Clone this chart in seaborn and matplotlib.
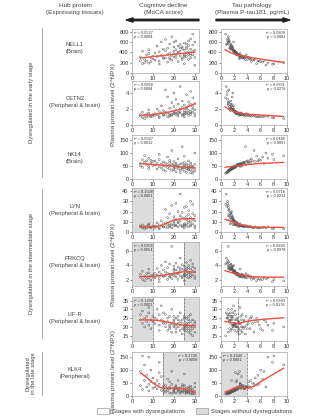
import numpy as np
import pandas as pd
import matplotlib
matplotlib.use("Agg")
import matplotlib.pyplot as plt
from matplotlib.patches import Rectangle, FancyArrow
import seaborn as sns

# ---- subjects: MoCA score and plasma P-tau181 (pg/mL) ----
moca = [4, 4, 5, 5, 6, 6, 7, 7, 8, 8, 8, 9, 9, 10, 10,
        11, 11, 12, 12, 13, 13, 13, 14, 14, 15, 15, 15,
        16, 16, 16, 17, 17, 17, 18, 18, 18, 18, 19, 19, 19, 20, 20, 20, 20, 20,
        21, 21, 21, 21, 22, 22, 22, 22, 23, 23, 23, 23, 24, 24, 24, 24, 25, 25, 25, 25, 25, 25,
        26, 26, 26, 26, 26, 27, 27, 27, 27, 27, 28, 28, 28, 28, 28, 29, 29, 29, 29, 30, 30, 30, 30]
ptau = [6.5, 3.2, 8.0, 2.1, 4.5, 9.5, 3.8, 5.6, 2.9, 7.1, 1.8, 4.2, 6.0, 3.0, 5.2,
        2.4, 4.8, 1.6, 3.5, 7.8, 2.2, 5.8, 1.9, 3.1, 2.7, 4.1, 1.4,
        2.0, 3.3, 1.2, 6.3, 2.6, 1.7, 4.4, 2.3, 1.5, 3.6, 2.8, 1.1, 5.0, 2.1, 3.9, 1.8, 2.5, 1.3,
        1.9, 2.7, 1.0, 3.2, 2.2, 1.6, 4.6, 2.4, 1.3, 3.0, 2.0, 0.8, 1.7, 2.9, 3.7, 1.5, 2.3, 1.1, 2.6, 5.4, 1.8, 3.4,
        1.4, 2.1, 0.9, 3.1, 1.7, 2.5, 1.2, 4.0, 2.0, 1.6, 2.8, 1.0, 2.2, 3.5, 1.5, 1.9, 0.7, 2.4, 1.3, 2.9, 1.8, 6.8, 1.1]

# ---- plasma protein levels (2^NPX) per subject ----
nell1 = [240, 310, 180, 420, 260, 200, 350, 230, 380, 190, 450, 300, 220, 330, 270,
         390, 250, 520, 320, 170, 410, 230, 600, 340, 280, 300, 460,
         430, 290, 650, 210, 360, 480, 270, 380, 560, 300, 340, 700, 250, 420, 310, 500, 370, 600,
         450, 350, 620, 300, 400, 520, 220, 380, 480, 330, 420, 550, 470, 290, 260, 500, 360, 580, 340, 180, 440, 310,
         500, 390, 560, 320, 470, 360, 620, 260, 410, 530, 340, 660, 380, 290, 460, 420, 750, 350, 540, 300, 440, 150, 600]
cetn2 = [1.1, 1.3, 0.9, 1.6, 1.2, 0.8, 1.4, 1.0, 1.5, 1.1, 1.9, 1.2, 1.0, 1.3, 1.1,
         1.4, 1.2, 2.0, 1.3, 0.9, 1.7, 1.1, 2.4, 1.5, 1.2, 1.3, 1.8,
         1.6, 1.3, 4.4, 1.0, 1.5, 3.5, 1.2, 1.4, 2.1, 1.1, 1.3, 2.8, 1.2, 1.7, 1.4, 4.0, 1.5, 2.3,
         1.9, 1.5, 3.2, 1.3, 1.6, 2.6, 1.1, 1.4, 2.0, 1.5, 1.7, 4.8, 2.2, 1.3, 1.2, 3.0, 1.6, 2.5, 1.4, 1.0, 1.8, 1.3,
         2.0, 1.6, 3.8, 1.4, 2.2, 1.5, 2.9, 1.2, 1.8, 2.4, 1.5, 4.2, 1.7, 1.3, 2.6, 2.0, 3.4, 1.6, 2.3, 1.4, 1.9, 1.1, 2.7]
hk14 = [60, 50, 75, 45, 65, 90, 55, 70, 48, 80, 40, 62, 72, 52, 68,
        55, 70, 38, 60, 95, 48, 75, 42, 58, 52, 66, 35,
        50, 62, 30, 85, 56, 44, 72, 52, 40, 65, 58, 33, 110, 48, 68, 42, 55, 36,
        45, 55, 28, 62, 48, 40, 78, 52, 34, 58, 46, 25, 42, 60, 125, 38, 50, 30, 54, 88, 44, 64,
        40, 48, 26, 58, 42, 52, 35, 70, 45, 38, 55, 24, 46, 62, 36, 44, 22, 50, 32, 57, 41, 100, 30]
lyn = [5, 6, 4, 7, 5, 3, 6, 4, 8, 5, 7, 5, 4, 6, 5,
       6, 4, 9, 5, 3, 7, 4, 11, 6, 5, 5, 8,
       9, 5, 22, 4, 7, 14, 5, 8, 18, 6, 7, 26, 4, 10, 6, 15, 8, 12,
       12, 7, 28, 6, 10, 20, 5, 9, 16, 7, 11, 37, 14, 6, 5, 19, 8, 24, 7, 4, 13, 6,
       15, 8, 25, 6, 12, 9, 21, 5, 11, 17, 7, 30, 10, 6, 14, 12, 27, 8, 18, 6, 11, 4, 16]
prkcq = [2.4, 2.8, 2.1, 3.2, 2.5, 1.9, 2.9, 2.2, 3.5, 2.3, 3.0, 2.6, 2.0, 2.7, 2.4,
         2.9, 2.3, 3.6, 2.7, 1.8, 3.1, 2.2, 4.0, 2.8, 2.5, 2.6, 3.4,
         3.1, 2.6, 4.5, 2.1, 2.9, 3.7, 2.4, 2.8, 4.2, 2.5, 2.7, 6.6, 2.2, 3.3, 2.6, 3.9, 2.9, 3.5,
         3.4, 2.8, 4.3, 2.4, 3.0, 3.8, 2.1, 2.9, 3.6, 2.6, 3.2, 5.0, 3.5, 2.5, 2.3, 4.1, 2.8, 3.9, 2.7, 1.9, 3.3, 2.6,
         3.6, 2.9, 4.4, 2.5, 3.4, 2.8, 4.0, 2.3, 3.1, 3.7, 2.6, 4.7, 3.0, 2.4, 3.5, 3.2, 4.2, 2.7, 3.8, 2.5, 3.1, 2.2, 3.6]
lifr = [24, 27, 22, 29, 25, 20, 26, 23, 31, 21, 28, 24, 19, 26, 23,
        25, 22, 30, 24, 18, 27, 21, 32, 24, 23, 22, 28,
        22, 20, 27, 18, 23, 25, 19, 21, 26, 20, 22, 30, 17, 24, 21, 26, 20, 23,
        21, 19, 25, 17, 22, 24, 26, 20, 23, 18, 21, 28, 19, 22, 16, 24, 20, 26, 18, 25, 21, 19,
        22, 18, 25, 20, 21, 17, 24, 19, 22, 26, 16, 27, 20, 23, 18, 21, 15, 24, 19, 22, 20, 23, 17]
klk4 = [95, 40, 155, 25, 60, 120, 35, 80, 45, 150, 20, 55, 100, 30, 70,
        35, 50, 60, 28, 130, 90, 45, 22, 75, 30, 40, 18,
        25, 40, 15, 65, 30, 20, 35, 55, 12, 28, 95, 10, 45, 22, 32, 18, 26, 14,
        28, 35, 12, 40, 22, 18, 30, 60, 15, 32, 24, 10, 20, 45, 38, 16, 26, 13, 85, 42, 21, 33,
        14, 22, 10, 30, 18, 27, 12, 35, 20, 16, 38, 8, 24, 32, 15, 19, 8, 26, 11, 50, 17, 35, 9]

proteins = ["NELL1", "CETN2", "hK14", "LYN", "PRKCQ", "LIF-R", "KLK4"]
tissues = ["(Brain)", "(Peripheral & brain)", "(Brain)", "(Peripheral & brain)",
           "(Peripheral & brain)", "(Peripheral & brain)", "(Peripheral)"]
levels = [nell1, cetn2, hk14, lyn, prkcq, lifr, klk4]

# ---- smoothed trend curves ----
trend_moca_x = [[4, 30], [4, 10, 15, 20, 25, 30], [4, 30],
                [4, 8, 12, 15, 18, 21, 24, 27, 30], [4, 10, 15, 20, 25, 30],
                [4, 8, 12, 16, 20, 24, 27, 30], [4, 7, 10, 13, 15, 18, 22, 25, 28, 30]]
trend_moca_y = [[290, 405], [1.2, 1.3, 1.5, 1.75, 2.1, 2.65], [60, 43],
                [5, 5, 5.5, 7, 10, 12, 13, 13, 13], [2.5, 2.5, 2.65, 2.95, 3.15, 3.1],
                [24, 24, 23.7, 23, 22, 21, 20.7, 20.8], [90, 72, 50, 35, 30, 30, 30, 28, 22, 15]]
trend_tau_x = [[0.6, 1.5, 2.5, 4, 6, 8, 9.5], [0.6, 1, 2, 3, 4, 6, 8, 9.5], [0.6, 2, 4, 6, 9.5],
               [0.6, 1.5, 2.5, 3.5, 5, 7, 9.5], [0.6, 1.5, 2.5, 3.5, 5, 7, 9.5],
               [0.6, 1.5, 2.5, 3.5, 5, 7, 9.5], [0.6, 1.5, 2.5, 3.5, 4.2, 5, 6, 7, 8, 9.5]]
trend_tau_y = [[450, 390, 345, 310, 270, 230, 205], [2.3, 2.05, 1.65, 1.45, 1.35, 1.25, 1.15, 1.05],
               [45, 50, 56, 60, 64], [12.5, 10.5, 8, 6.5, 5, 4.5, 4.5], [3.3, 3.05, 2.8, 2.6, 2.45, 2.4, 2.4],
               [23.2, 22.5, 22, 22.8, 23.8, 24.5, 25.2], [15, 25, 35, 32, 30, 38, 55, 70, 85, 108]]

stats_moca = [("0.0527", "0.0084"), ("0.0858", "0.0084"), ("0.0567", "0.0012"), ("0.1508", "0.0001"),
              ("0.0356", "0.0054"), ("0.1294", "0.0001"), ("0.2798", "0.0008")]
stats_tau = [("0.0808", "0.0082"), ("0.0331", "0.0276"), ("0.0460", "0.0097"), ("0.0716", "0.0211"),
             ("0.0260", "0.0978"), ("0.0380", "0.0176"), ("0.1640", "0.0001")]

ylims = [(0, 850), (0, 5.5), (0, 170), (0, 43), (1.2, 7.2), (12, 37), (0, 170)]
yticks = [[0, 200, 400, 600, 800], [0, 2, 4], [0, 50, 100, 150], [0, 10, 20, 30, 40],
          [2, 4, 6], [15, 20, 25, 30, 35], [0, 50, 100, 150]]

# stage shading (x-ranges without dysregulation) and stage boundaries
shade_moca = [[], [], [], [(0, 10)], [(0, 10), (25, 32)], [(0, 10), (25, 32)], [(15, 32)]]
bound_moca = [[], [], [], [10], [10, 25], [10, 25], [15]]
shade_tau = [[], [], [], [], [], [], [(0, 4)]]
bound_tau = [[], [], [], [], [], [2.5], [4]]
stat_left_moca = [True, True, True, True, True, True, False]
stat_left_tau = [False, False, False, False, False, False, True]

sns.set_style("ticks")
plt.rcParams["font.family"] = ["Liberation Sans", "DejaVu Sans"]

W, H = 323, 418
fig = plt.figure(figsize=(W / 100, H / 100), dpi=100)

def fx(px):
    return px / W

def fy(py):
    return 1 - py / H

row_tops = [29, 81, 135, 188, 242, 297, 352]
ax_h = 44
col_left = [132, 221]
col_w = [67, 66]

df = pd.DataFrame({"moca": moca, "ptau": ptau})
for name, vals in zip(proteins, levels):
    df[name] = vals

frame_col = "#b5b5b5"
red = "#f05040"
shade_col = "#dcdcdc"

for i, name in enumerate(proteins):
    for c in range(2):
        ax = fig.add_axes([fx(col_left[c]), fy(row_tops[i] + ax_h), fx(col_w[c]), ax_h / H])
        xcol = "moca" if c == 0 else "ptau"
        xlim = (0, 32) if c == 0 else (0, 10)
        shades = shade_moca[i] if c == 0 else shade_tau[i]
        bounds = bound_moca[i] if c == 0 else bound_tau[i]
        for a, b in shades:
            ax.axvspan(a, b, color=shade_col, lw=0, zorder=0)
        for b in bounds:
            ax.axvline(b, color="#222222", lw=0.5, ls=(0, (1, 1)), zorder=1)
        sns.scatterplot(data=df, x=xcol, y=name, ax=ax, s=1.8, marker="o",
                        facecolor="none", edgecolor="#555555", linewidth=0.35, zorder=2)
        tx = trend_moca_x[i] if c == 0 else trend_tau_x[i]
        ty = trend_moca_y[i] if c == 0 else trend_tau_y[i]
        sns.lineplot(x=tx, y=ty, ax=ax, color=red, lw=1.0, zorder=3, sort=False)
        ax.set_xlim(*xlim)
        ax.set_ylim(*ylims[i])
        ax.set_yticks(yticks[i])
        ax.set_yticklabels([str(t) for t in yticks[i]])
        if c == 0:
            ax.set_xticks([0, 10, 20, 30])
        else:
            ax.set_xticks([0, 2, 4, 6, 8, 10])
        ax.set_xlabel("")
        ax.set_ylabel("")
        for s in ax.spines.values():
            s.set_color(frame_col)
            s.set_linewidth(0.6)
        ax.tick_params(labelsize=4, length=1.6, width=0.4, pad=0.8, color="#333333",
                       labelcolor="#333333")
        r2, p = stats_moca[i] if c == 0 else stats_tau[i]
        left = stat_left_moca[i] if c == 0 else stat_left_tau[i]
        ax.text(0.03 if left else 0.97, 0.96, f"r² = {r2}\np = {p}",
                transform=ax.transAxes, ha="left" if left else "right", va="top",
                fontsize=2.8, color="#333333", linespacing=1.15)

txt_col = "#444444"
# column headers
fig.text(fx(75), fy(9), "Hub protein\n(Expressing tissues)", ha="center", va="center",
         fontsize=4.6, color=txt_col, linespacing=1.3)
fig.text(fx(163), fy(9), "Cognitive decline\n(MoCA score)", ha="center", va="center",
         fontsize=4.6, color=txt_col, linespacing=1.3)
fig.text(fx(252), fy(9), "Tau pathology\n(Plasma P-tau181, pg/mL)", ha="center", va="center",
         fontsize=4.6, color=txt_col, linespacing=1.3)
fig.patches.append(FancyArrow(fx(199), fy(20), fx(126) - fx(199), 0, width=0.0035,
                              head_width=0.010, head_length=0.022, length_includes_head=True,
                              color="#222222", transform=fig.transFigure, figure=fig))
fig.patches.append(FancyArrow(fx(216), fy(20), fx(290) - fx(216), 0, width=0.0035,
                              head_width=0.010, head_length=0.022, length_includes_head=True,
                              color="#222222", transform=fig.transFigure, figure=fig))

# protein labels
label_y = [48, 102, 158, 210, 262, 318, 373]
for name, tis, yy in zip(proteins, tissues, label_y):
    fig.text(fx(75), fy(yy), f"{name}\n{tis}", ha="center", va="center",
             fontsize=4.2, color=txt_col, linespacing=1.3)

# stage groups
groups = [(28, 177, "Dysregulated in the early stage"),
          (189, 338, "Dysregulated in the intermediate stage"),
          (352, 395, "Dysregulated\nin the late stage")]
for y0, y1, lab in groups:
    fig.add_artist(plt.Line2D([fx(42), fx(42)], [fy(y0), fy(y1)], color="#999999", lw=0.6,
                              transform=fig.transFigure))
    fig.text(fx(31), fy((y0 + y1) / 2), lab, ha="center", va="center", rotation=90,
             fontsize=4.2, color=txt_col, linespacing=1.2)

# shared y-axis labels
for yy in [105, 265, 372]:
    fig.text(fx(113), fy(yy), "Plasma protein level (2^NPX)", ha="center", va="center",
             rotation=90, fontsize=4.6, color=txt_col)

# legend
fig.patches.append(Rectangle((fx(97), fy(414)), fx(12), 6 / H, facecolor="white",
                             edgecolor="#999999", lw=0.5, transform=fig.transFigure, figure=fig))
fig.text(fx(112), fy(411), "Stages with dysregulations", ha="left", va="center",
         fontsize=4.4, color=txt_col)
fig.patches.append(Rectangle((fx(196), fy(414)), fx(12), 6 / H, facecolor=shade_col,
                             edgecolor="#999999", lw=0.5, transform=fig.transFigure, figure=fig))
fig.text(fx(211), fy(411), "Stages without dysregulations", ha="left", va="center",
         fontsize=4.4, color=txt_col)

fig.savefig("out.png", dpi=100)
